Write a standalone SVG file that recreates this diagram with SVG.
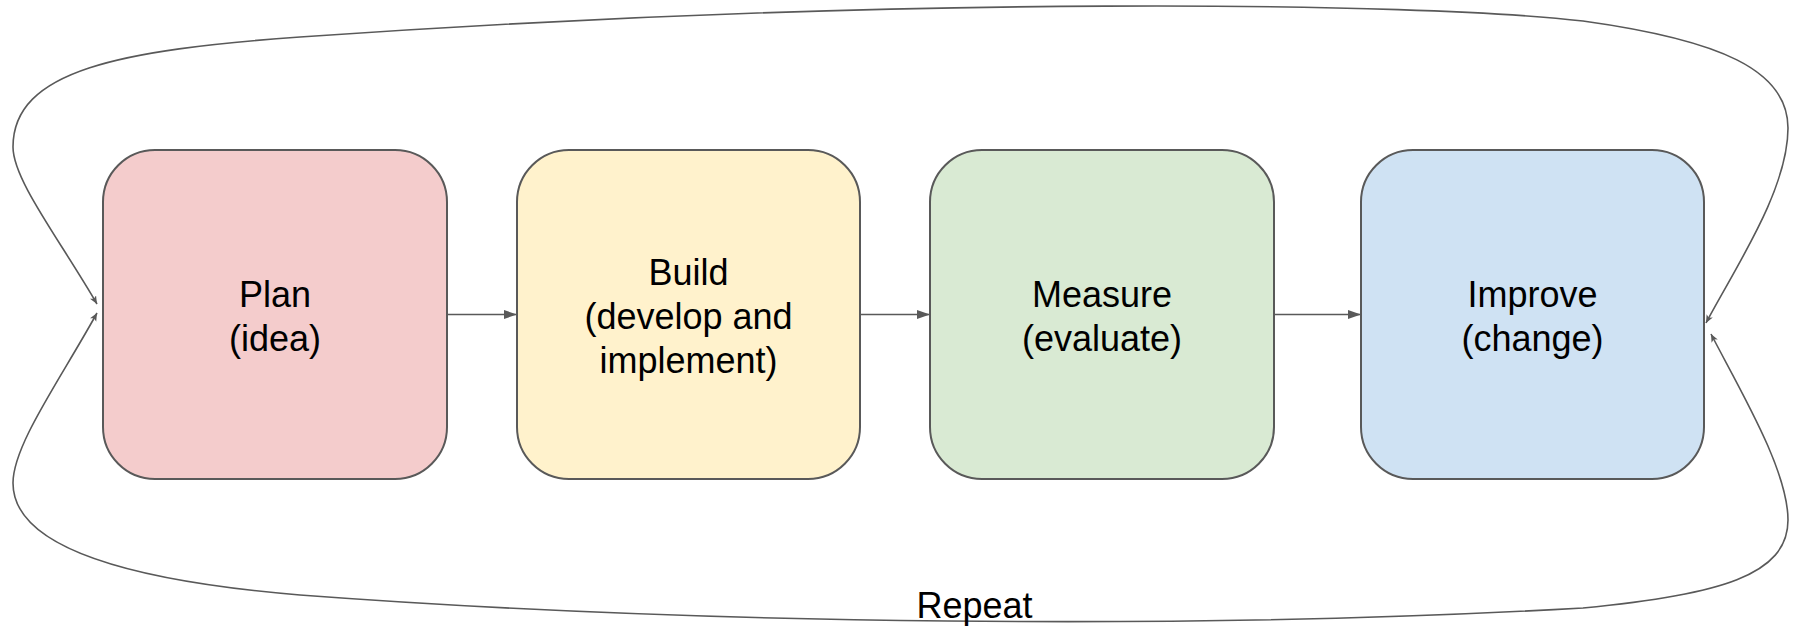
<svg xmlns="http://www.w3.org/2000/svg" width="1801" height="627" viewBox="0 0 1801 627">
<defs>
<style>
.box{stroke:#595959;stroke-width:2}
.lbl{font-family:"Liberation Sans",Arial,sans-serif;font-size:36px;fill:#000;text-anchor:middle}
.edge{fill:none;stroke:#595959;stroke-width:1.6}
</style>
<marker id="block" markerUnits="userSpaceOnUse" markerWidth="14" markerHeight="10" refX="13" refY="4.5" orient="auto">
<path d="M0,0 L13,4.5 L0,9 z" fill="#595959"/>
</marker>
<marker id="classic" markerUnits="userSpaceOnUse" markerWidth="10" markerHeight="8" refX="8" refY="3.5" orient="auto-start-reverse">
<path d="M0,0 L8,3.5 L0,7 L2,3.5 z" fill="#595959"/>
</marker>
</defs>
<rect width="1801" height="627" fill="#ffffff"/>
<g id="connectors">
<line class="edge" x1="447" y1="314.5" x2="517" y2="314.5" marker-end="url(#block)"/>
<line class="edge" x1="860" y1="314.5" x2="930" y2="314.5" marker-end="url(#block)"/>
<line class="edge" x1="1274" y1="314.5" x2="1361" y2="314.5" marker-end="url(#block)"/>
<path class="edge" d="M 1706 323 C 1735 268, 1788 190, 1788 128 C 1788 70, 1720 40, 1583 21 C 1420 2, 900 -5, 300 37 C 120 50, 13 70, 13 147 C 13 180, 60 240, 97 304" marker-start="url(#classic)" marker-end="url(#classic)"/>
<path class="edge" d="M 97 313 C 60 380, 13 445, 13 483 C 13 545, 120 580, 300 595 C 700 625, 1200 630, 1583 608 C 1720 595, 1788 575, 1788 520 C 1788 470, 1740 390, 1711 334" marker-start="url(#classic)" marker-end="url(#classic)"/>
<text class="lbl" x="974.5" y="618">Repeat</text>
</g>
<g id="plan">
<rect class="box" x="103" y="150" width="344" height="329" rx="52" ry="52" fill="#f4cccc"/>
<text class="lbl" x="275" y="307">Plan</text>
<text class="lbl" x="275" y="351">(idea)</text>
</g>
<g id="build">
<rect class="box" x="517" y="150" width="343" height="329" rx="52" ry="52" fill="#fff2cc"/>
<text class="lbl" x="688.5" y="285">Build</text>
<text class="lbl" x="688.5" y="329">(develop and</text>
<text class="lbl" x="688.5" y="373">implement)</text>
</g>
<g id="measure">
<rect class="box" x="930" y="150" width="344" height="329" rx="52" ry="52" fill="#d9ead3"/>
<text class="lbl" x="1102" y="307">Measure</text>
<text class="lbl" x="1102" y="351">(evaluate)</text>
</g>
<g id="improve">
<rect class="box" x="1361" y="150" width="343" height="329" rx="52" ry="52" fill="#cfe2f3"/>
<text class="lbl" x="1532.5" y="307">Improve</text>
<text class="lbl" x="1532.5" y="351">(change)</text>
</g>
</svg>
